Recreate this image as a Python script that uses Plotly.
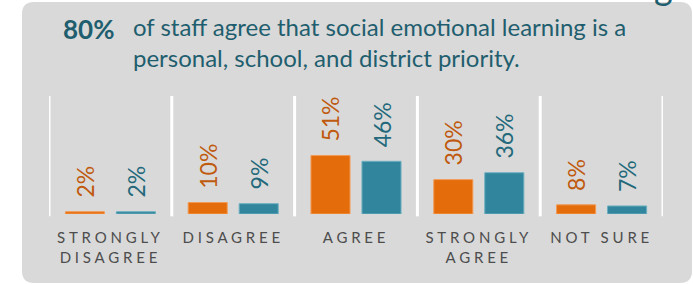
import plotly.graph_objects as go

# ---- data ----
categories = ["STRONGLY DISAGREE", "DISAGREE", "AGREE", "STRONGLY AGREE", "NOT SURE"]
tick_lines = [["STRONGLY", "DISAGREE"], ["DISAGREE"], ["AGREE"], ["STRONGLY", "AGREE"], ["NOT SURE"]]
series_a = [2, 10, 51, 30, 8]     # orange
series_b = [2, 9, 46, 36, 7]      # teal
headline_value = "80%"
headline_text = "of staff agree that social emotional learning is a<br>personal, school, and district priority."

# ---- styling ----
W, H = 693, 284
L, R, T, B = 49, 30, 96, 70
PW, PH = W - L - R, H - T - B
ORANGE, TEAL = "#E46C0A", "#31859C"
ORANGE_TXT, TEAL_TXT = "#BF5A0E", "#23697B"
TITLE_COL = "#1F5E6E"
PANEL = "#D9D9D9"
FONT = "Lato"

def px(x):
    return (x - L) / PW

def py(y):
    return (H - B - y) / PH

def spaced(lines, sp=3.8):
    return "<br>".join(f"<span style='letter-spacing:{sp}px'>{ln}</span>" for ln in lines)

xi = list(range(len(categories)))
bw = 0.318
off = 0.2077

fig = go.Figure()
fig.add_trace(go.Bar(x=xi, y=series_a, width=bw, offset=-off - bw / 2,
                     marker=dict(color=ORANGE, line=dict(color="#F29A55", width=1)),
                     name="Orange", hoverinfo="skip"))
fig.add_trace(go.Bar(x=xi, y=series_b, width=bw, offset=off - bw / 2,
                     marker=dict(color=TEAL, line=dict(color="#6AAFC0", width=1)),
                     name="Teal", hoverinfo="skip"))

annotations = []
ppu = PW / len(categories)
for i, (a, b) in enumerate(zip(series_a, series_b)):
    for v, sgn, col in ((a, -1, ORANGE_TXT), (b, 1, TEAL_TXT)):
        annotations.append(dict(x=i, y=v, xref="x", yref="y", text=f"{v}%",
                                textangle=-90, showarrow=False, xanchor="center",
                                yanchor="bottom", xshift=sgn * off * ppu, yshift=12,
                                font=dict(family=FONT, size=23, color=col)))

annotations.append(dict(x=px(61), y=py(11), xref="paper", yref="paper", xanchor="left",
                        yanchor="top", showarrow=False, text=f"<b>{headline_value}</b>",
                        font=dict(family=FONT, size=26, color=TITLE_COL)))
annotations.append(dict(x=px(131), y=py(10), xref="paper", yref="paper", xanchor="left",
                        yanchor="top", showarrow=False, align="left", text=headline_text,
                        font=dict(family=FONT, size=24, color=TITLE_COL)))
annotations.append(dict(x=px(663), y=py(-38), xref="paper", yref="paper", xanchor="center",
                        yanchor="top", showarrow=False, text="g",
                        font=dict(family=FONT, size=36, color=TITLE_COL)))

# rounded panel
x0, y0, x1, y1, r = 22, 2, 692, 283, 12
path = (f"M {px(x0 + r)} {py(y0)} L {px(x1 - r)} {py(y0)} Q {px(x1)} {py(y0)} {px(x1)} {py(y0 + r)} "
        f"L {px(x1)} {py(y1 - r)} Q {px(x1)} {py(y1)} {px(x1 - r)} {py(y1)} "
        f"L {px(x0 + r)} {py(y1)} Q {px(x0)} {py(y1)} {px(x0)} {py(y1 - r)} "
        f"L {px(x0)} {py(y0 + r)} Q {px(x0)} {py(y0)} {px(x0 + r)} {py(y0)} Z")
shapes = [dict(type="path", path=path, xref="paper", yref="paper", fillcolor=PANEL,
               line=dict(width=0), layer="below")]
for k in range(len(categories) + 1):
    shapes.append(dict(type="line", xref="x", yref="paper", x0=k - 0.5, x1=k - 0.5, y0=-0.02, y1=1,
                       line=dict(color="white", width=3), layer="below"))
shapes.append(dict(type="rect", xref="x", yref="y", ysizemode="pixel", yanchor=0,
                   x0=-0.5, x1=len(categories) - 0.5, y0=-4.5, y1=0,
                   fillcolor="#808080", line=dict(width=0)))

fig.update_layout(
    width=W, height=H, margin=dict(l=L, r=R, t=T, b=B),
    paper_bgcolor="white", plot_bgcolor="rgba(0,0,0,0)",
    showlegend=False, barmode="overlay",
    annotations=annotations, shapes=shapes,
    xaxis=dict(range=[-0.5, len(categories) - 0.5], tickmode="array", tickvals=xi,
               ticktext=[spaced(t) for t in tick_lines], showgrid=False, zeroline=False,
               showline=False, ticks="outside", ticklen=10, tickcolor="rgba(0,0,0,0)",
               tickfont=dict(family=FONT, size=15, color="#4D4D4D")),
    yaxis=dict(range=[0, 103], visible=False, showgrid=False, zeroline=False),
)

fig.write_html("out.html", config={"displayModeBar": False},
               post_script="document.body.style.margin='0';")
